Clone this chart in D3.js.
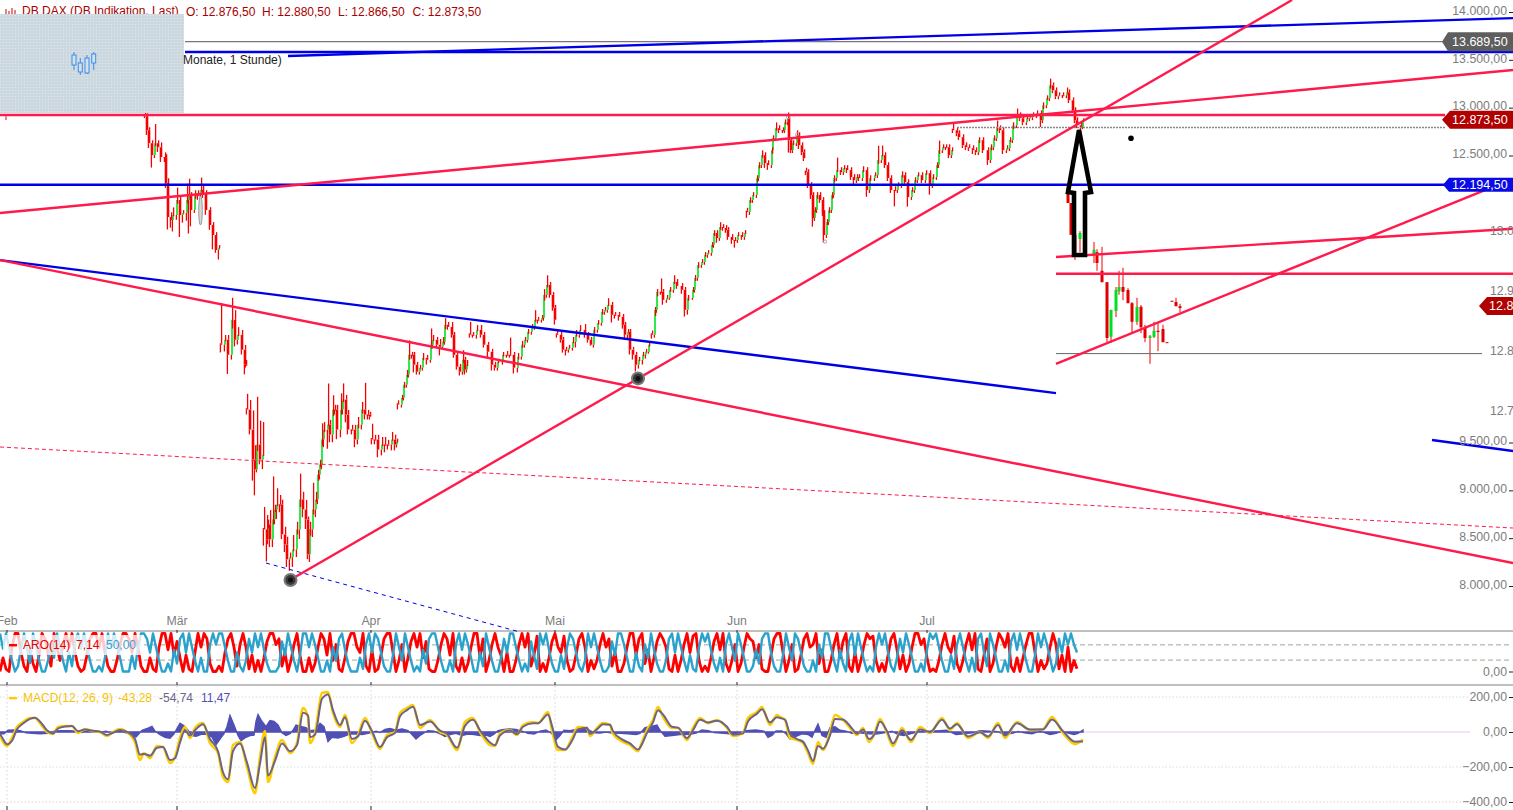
<!DOCTYPE html>
<html><head><meta charset="utf-8">
<style>html,body{margin:0;padding:0;background:#fff;overflow:hidden}svg{display:block;font-family:"Liberation Sans",Arial,sans-serif}</style>
<script src="https://cdn.jsdelivr.net/npm/d3@7/dist/d3.min.js"></script>
</head><body><svg id="c" width="1513" height="810"></svg>
<script>
// ---- hourly main candles: position, close, wick above body, wick below body
const mainBar=[145,147,149,152,155,158,161,165,166,168,171,173,177,180,183,187,189,191,195,198,201,203,206,210,213,216,219,
221,225,228,232,235,238,242,245,246,
247,250,253,255,257,260,263,
264,267,268,270,273,275,277,280,282,285,287,290,293,297,300,303,306,308,310,313,316,318,320,322,324,328,330,333,335,337,341,343,346,348,352,355,358,362,365,368,370,
372,375,378,382,385,388,392,395,397,
398,402,404,407,409,412,414,417,420,423,427,431,433,437,440,443,445,448,452,454,457,460,463,465,467,
470,473,477,481,484,488,492,495,498,503,507,510,514,518,522,525,528,532,535,538,542,544,547,550,553,555,
557,561,563,566,569,573,576,580,585,588,591,594,598,602,605,608,612,615,619,623,625,628,630,633,636,639,643,646,649,
652,655,657,661,663,667,670,674,677,682,685,688,693,695,698,702,705,708,712,714,717,720,723,726,728,732,735,738,742,745,
747,750,753,757,759,762,765,768,772,773,776,779,783,785,788,789,791,793,797,799,802,804,
806,808,811,813,815,817,820,823,824,827,829,832,834,
837,841,844,847,851,854,857,859,863,867,870,875,878,882,885,888,891,895,898,902,905,908,912,915,918,922,926,930,933,937,939,943,946,949,952,
953,957,959,963,966,969,973,976,979,983,988,991,994,997,1000,1003,1007,1010,1013,1017,1020,1023,1027,1030,1033,1037,1041,1043,1047,1050,1053,1056,1059,1063,1067,1069,1073,1075,1077,1081,1083];
const mainClose=[12894,12748,12612,12487,12612,12570,12466,12466,12195,11840,11809,11861,12018,11861,11882,12018,12070,11913,12070,12070,12122,12091,11913,11757,11652,11496,11517,
10505,10557,10400,10766,10557,10609,10453,10296,10296,
9827,9618,9305,9201,9461,9305,9357,
8575,8470,8627,8470,8679,8783,8835,8835,8523,8418,8262,8283,8366,8575,8888,8783,8679,8314,8575,8783,8888,9148,9253,9514,9618,9670,9566,9827,9827,9618,9827,9931,9774,9618,9618,9514,9670,9827,9774,9774,9753,
9514,9514,9409,9461,9461,9461,9514,9461,9493,
9879,9952,10087,10192,10400,10400,10296,10223,10265,10369,10348,10505,10557,10505,10484,10536,10713,10692,10609,10400,10275,10223,10348,10244,10296,
10609,10609,10661,10609,10505,10432,10296,10265,10327,10400,10400,10400,10265,10380,10505,10557,10640,10692,10766,10766,10786,11026,11131,11026,10891,10766,
10609,10557,10453,10453,10474,10536,10609,10661,10609,10557,10505,10661,10734,10849,10870,10922,10818,10818,10797,10713,10609,10640,10453,10400,10296,10348,10400,10432,10505,
10609,10870,11058,11058,10974,10995,11079,11162,11120,11079,10870,10995,11079,11204,11339,11371,11444,11465,11548,11673,11621,11736,11726,11705,11632,11600,11600,11652,11632,11673,
11892,12018,12070,12247,12383,12487,12404,12383,12539,12664,12769,12748,12748,12831,12873,12644,12539,12612,12696,12591,12518,12456,
12310,12174,12070,11830,11913,12070,12018,11882,11652,11788,11913,12070,12247,
12331,12310,12352,12331,12258,12226,12258,12247,12331,12122,12247,12278,12435,12487,12383,12247,12122,12122,12174,12278,12205,12049,12122,12226,12278,12226,12299,12174,12258,12383,12539,12570,12570,12487,12539,
12748,12716,12675,12591,12570,12560,12539,12518,12644,12539,12435,12570,12664,12769,12748,12539,12560,12644,12800,12904,12873,12831,12873,12883,12904,12925,12852,13009,13082,13217,13165,13102,13113,13113,13144,13061,12957,12852,12800,12779,12852];
const mainWickUp=[20,30,30,30,200,30,50,50,30,50,50,80,130,50,30,170,170,30,50,50,130,50,30,30,30,30,30,
420,50,50,230,100,80,50,50,50,
150,100,200,150,500,250,340,
220,150,50,150,450,50,170,100,50,80,80,50,150,80,270,80,100,30,80,280,80,50,50,170,80,430,50,150,50,50,170,170,50,50,50,50,80,80,280,50,30,
150,50,50,80,80,50,80,50,30,
30,30,30,50,150,30,30,30,30,50,30,170,50,30,60,50,70,30,50,30,30,30,100,30,50,
120,30,50,50,30,30,30,30,30,30,40,180,30,40,40,30,30,30,100,30,30,60,100,30,30,30,
30,30,30,30,30,50,50,50,60,30,30,30,30,30,30,70,30,30,30,30,30,30,30,30,30,30,30,30,30,
30,30,30,140,30,30,30,70,30,30,30,30,30,30,30,30,30,30,30,30,30,50,30,30,30,30,30,30,30,30,
30,30,30,30,30,50,30,30,30,30,60,30,30,30,60,30,30,30,50,30,30,30,
30,30,30,30,30,30,30,30,30,30,30,30,30,
130,30,30,30,30,30,30,30,40,30,30,30,150,100,30,30,30,40,30,40,30,30,30,30,30,30,30,30,30,30,100,30,30,30,30,
70,30,30,30,30,30,30,30,30,30,30,30,30,80,30,30,30,30,30,70,30,30,30,30,30,30,30,30,30,70,30,30,30,30,50,30,30,30,30,30,20];
const mainWickDown=[20,50,50,130,30,50,50,50,50,130,80,120,50,230,80,80,350,170,30,50,50,50,50,50,150,30,100,
80,70,200,50,70,50,50,100,30,
50,50,220,270,30,50,100,
170,230,50,80,80,50,100,80,50,80,80,120,100,80,100,80,100,50,80,80,80,50,50,50,80,200,80,80,50,100,80,50,80,50,50,80,50,50,50,50,30,
50,50,80,60,80,50,60,60,30,
50,30,30,30,30,40,80,30,30,30,50,30,40,30,90,30,30,30,30,30,30,40,30,50,30,
30,30,40,30,30,60,60,30,30,30,30,30,60,50,30,30,30,30,30,40,30,30,30,30,30,50,
30,30,30,60,30,30,60,30,30,30,10,30,30,30,30,30,80,40,40,40,50,40,50,50,70,40,50,40,20,
40,30,30,30,50,30,20,30,30,40,70,50,20,30,30,30,30,30,30,30,50,30,30,30,30,40,80,30,30,30,
60,30,30,30,30,30,50,50,30,30,30,30,30,30,30,130,30,30,30,40,30,30,
30,30,40,90,30,30,30,30,80,30,30,30,30,
30,30,30,30,30,40,30,30,30,70,30,30,30,30,30,30,30,170,30,30,30,100,30,30,30,30,30,100,30,30,30,30,30,30,30,
30,30,30,30,30,30,40,30,30,30,50,30,30,30,30,40,30,30,30,30,30,30,30,30,30,30,70,30,30,30,30,30,30,30,30,30,30,30,30,30,20];
const sessionStarts=[145,221,247,264,372,398,470,557,652,747,806,953];

// ---- inset candles (intraday chart pasted on the right)
const insetBar=[1068,1071,1075,1080,1089,1094,1097,1102,1107,1111,1116,1119,1123,1128,1132,1137,1141,1145,1150,1154,1158,1163,1167,1172,1176,1180];
const insetOpen=[13067,13045,12992,12985,12960,12960,12963,12932,12913,12822,12865,12898,12905,12900,12878,12847,12872,12837,12820,12822,12832,12835,12813,12882,12880,12873];
const insetClose=[13045,12992,12963,12995,12958,12967,12945,12913,12820,12867,12900,12905,12897,12878,12847,12872,12838,12820,12823,12832,12830,12813,12812,12881,12873,12870];
const insetHigh=[13067,13045,12992,12998,12960,12980,12968,12972,12913,12867,12905,12932,12937,12903,12880,12887,12875,12842,12825,12847,12845,12842,12813,12882,12887,12877];
const insetLow=[13045,12992,12950,12963,12958,12945,12932,12913,12812,12812,12855,12892,12883,12878,12830,12842,12828,12813,12777,12820,12798,12813,12812,12881,12873,12863];

// ---- drawn trend lines [bar, price, bar, price]
const redLines=[[0,11899,1513,13393],[290,8062,1292,14125],[0,11407,1513,8240],[0,12923,1445,12923]];
const blueLines=[[288,13540,1513,13937],[185,13582,1513,13582],[0,12194.5,1445,12194.5],[0,11407,1056,10017],[1432,9526,1513,9411]];
const redDash=[[0,9453,1513,8606]];
const blueDash=[[266,8240,520,7519]];
const grayLines=[[185,13689.5,1443,13689.5]];
const grayDotted=[[957,12792,1445,12792]];
const insetRedLines=[[1056,12955,1513,13002],[1056,12927,1513,12927],[1056,12777,1493,13072]];
const insetGrayLines=[[1056,12794,1482,12794]];
const arrowBar=[1079,1091,1085,1085,1074,1074,1068];
const arrowPrice=[12766,12118,12108,11460,11460,12108,12118];
const priceLevels=["13.689,50","12.873,50","12.194,50"];

// ---- axes
const monthBars=[7,177,371,555,737,927];
const monthNames=["Feb","Mär","Apr","Mai","Jun","Jul"];
const priceTicks=[14000,13500,13000,12500,9500,9000,8500,8000];
const insetTicks=[13000,12900,12800,12700];
const macdTicks=[200,0,-200,-400];

// ---- Aroon(14), one sample every 3 bars
const aroUp=[100,60,100,65,28,0,14,60,100,60,22,100,70,30,0,0,28,72,36,100,
64,28,0,50,14,79,100,60,100,64,28,0,0,14,0,36,100,64,100,72,
36,0,0,0,43,7,64,100,100,86,50,100,64,29,0,0,21,0,57,21,
86,100,50,100,64,28,0,36,0,0,71,100,71,100,100,64,28,0,0,50,
14,0,29,86,50,100,64,100,57,21,0,0,0,14,79,43,100,64,29,0,
43,100,100,64,100,71,36,0,0,29,0,64,28,86,100,57,21,0,0,0,
36,7,71,100,50,100,86,50,14,0,0,43,100,64,29,100,64,28,0,14,
0,57,21,86,100,100,64,28,0,0,29,0,71,100,57,100,71,36,0,0,
50,14,100,64,28,0,0,36,86,50,100,100,64,29,0,21,0,79,43,7,
100,71,100,57,21,0,0,43,7,64,100,86,50,14,0,29,100,64,100,64,
28,0,0,14,79,43,100,100,71,36,0,0,50,14,0,71,36,100,57,21,
0,0,29,86,100,50,100,64,29,0,43,7,0,64,100,79,100,57,21,0,
36,0,71,100,64,28,100,71,36,0,0,14,57,21,86,100,100,50,14,0,
0,43,100,64,29,100,86,50,14,0,0,29,0,71,36,100,100,64,28,0,
57,21,0,79,100,43,100,64,29,0,14,0,64,100,71,100,50,14,0,36,
86,50,100,71,36,0,0,21,0,57,100,86,100,64,29,0,0,43,7,71,
100,64,28,0,36,0,86,100,50,14,100,71,36,0,0,29,0,79,100,57,
100,64,29,0,0,43,100,64,100,71,36,0,21,86,50,100,71,100,71,50];
const aroDown=[0,36,7,0,64,100,100,50,14,0,57,21,0,43,100,86,50,14,100,64,
29,71,100,64,100,50,14,0,7,43,86,100,100,64,100,50,14,0,0,29,
71,100,100,86,50,100,64,14,0,0,36,7,0,64,100,100,57,100,43,79,
36,0,43,7,0,50,100,64,100,86,21,0,0,14,0,50,86,100,64,14,
71,100,64,7,43,0,29,0,36,79,100,100,71,86,14,50,0,29,71,100,
43,0,0,36,0,21,64,100,86,43,100,29,71,7,0,36,79,100,100,64,
50,100,14,0,57,0,7,43,86,100,100,50,0,29,71,0,36,79,100,64,
100,36,79,7,0,0,29,71,100,86,43,100,14,0,36,0,21,64,100,100,
36,86,0,29,71,100,64,43,0,50,0,0,29,71,100,64,100,14,43,93,
0,21,0,36,79,100,64,50,93,29,0,7,43,86,100,64,0,29,7,29,
71,100,64,86,14,50,0,0,21,64,100,100,43,86,100,21,57,0,36,79,
100,86,64,7,0,43,0,29,71,100,50,93,100,29,0,14,0,36,79,100,
57,100,21,0,29,71,0,21,64,100,86,79,36,71,7,0,0,43,86,100,
100,50,0,29,71,0,7,43,86,100,64,71,100,21,57,0,0,29,71,100,
36,79,100,14,0,50,0,29,71,100,86,93,29,0,21,0,43,86,100,57,
7,43,0,21,64,100,100,71,86,36,0,7,0,29,71,100,64,50,93,21,
0,29,71,100,57,100,7,0,43,86,0,21,64,100,86,64,100,14,0,36,
0,36,71,100,100,50,0,29,7,21,64,100,71,7,43,0,64,0,29,7];

// ---- MACD(12,26,9)
const macdBars=[0,3,7,12,17,23,30,35,40,47,53,58,65,72,78,85,92,100,107,113,120,128,135,140,144,150,157,163,170,175,180,185,190,195,203,210,218,223,228,233,240,247,255,260,265,268,275,282,290,297,303,308,310,315,322,328,333,340,345,352,358,365,372,380,387,395,400,407,413,420,430,440,447,457,465,473,480,490,495,500,510,517,523,533,538,548,552,558,565,572,578,587,590,597,603,610,613,623,630,638,642,647,653,658,663,672,678,687,693,700,708,717,727,733,743,748,757,762,770,777,780,785,790,797,803,808,813,818,823,830,835,843,852,857,863,869,875,880,887,893,902,911,920,930,942,950,957,968,980,988,998,1005,1017,1030,1043,1052,1063,1075,1083];
const macdLine=[-17,-57,-80,-34,29,57,80,80,51,0,-11,29,34,34,-6,17,6,0,-23,0,17,-6,-57,-160,-120,-149,-80,-86,-177,-143,-34,29,-34,23,51,-63,-120,-257,-286,-74,-57,-200,-349,-143,6,-286,-143,-46,-120,-63,137,86,-63,-6,223,229,109,29,97,-63,-17,80,-6,-97,-17,0,109,137,154,23,69,0,-17,-103,57,80,0,-74,-80,-6,11,-17,40,57,51,114,11,-103,-103,-34,29,23,-23,23,51,40,-11,-57,-74,-109,-57,11,69,143,86,23,23,-46,23,80,51,69,23,-23,-6,80,114,143,40,97,86,69,-34,-46,-63,-120,-183,-57,-103,0,97,69,11,-17,23,-57,0,74,-6,-80,23,-57,29,-6,80,11,51,-34,0,-34,51,-34,57,11,17,86,-6,-69,-43.28];
const macdSignal=[-10,-40,-70,-50,15,48,75,82,60,10,-8,20,32,35,5,14,8,2,-17,-4,12,-2,-40,-130,-125,-135,-90,-85,-160,-150,-60,10,-20,10,45,-40,-110,-230,-270,-110,-65,-175,-320,-180,-30,-250,-165,-65,-110,-75,110,95,-30,-15,190,215,125,40,85,-40,-25,65,5,-85,-30,-5,90,125,145,40,60,8,-10,-90,35,70,10,-60,-75,-20,8,-12,30,50,50,100,35,-85,-100,-50,15,25,-10,15,45,42,5,-45,-65,-100,-70,-5,55,125,100,30,25,-35,10,70,55,65,30,-15,-8,60,105,130,55,85,80,70,-10,-40,-55,-105,-165,-80,-95,-20,75,72,20,-10,15,-40,-8,60,5,-65,10,-45,15,0,70,20,45,-25,-2,-25,40,-20,50,15,15,72,5,-55,-54.74];
const histBars=[0,4,8,14,20,26,32,40,48,54,60,70,76,82,88,94,100,106,112,120,128,132,136,142,148,152,155,160,165,170,174,178,180,184,188,192,196,202,208,212,216,220,224,227,230,234,238,241,246,250,254,256,258,262,266,270,274,278,282,286,290,293,296,302,306,310,316,320,324,328,332,338,344,350,356,362,368,376,380,385,390,396,402,408,412,416,420,424,428,434,440,445,450,456,462,468,474,480,486,490,494,498,504,510,516,522,528,534,540,546,552,556,560,564,570,576,582,588,594,600,606,612,620,628,636,640,645,650,657,660,665,672,680,690,696,702,708,714,724,734,740,746,756,764,768,772,776,782,786,790,796,802,808,812,815,818,822,826,830,835,840,846,852,860,868,876,884,892,898,904,912,920,930,940,946,950,956,964,972,980,990,998,1004,1012,1018,1026,1032,1040,1046,1050,1056,1062,1068,1074,1078,1083];
const macdHist=[-10,-10,10,12,8,-4,-8,-10,-8,5,8,7,5,-3,8,8,-3,4,-5,5,-8,-25,-28,10,22,32,5,-15,-30,-36,-10,30,50,35,10,-20,-25,-12,-15,-30,-72,-40,-10,30,95,40,-20,-50,-30,-20,-18,60,100,60,30,65,60,40,-5,-20,-10,10,40,30,25,8,12,50,30,-55,-30,-35,-25,-10,-12,-15,-8,5,-3,15,20,10,18,8,-15,-40,-20,-5,8,5,-10,-25,-15,-8,-20,-12,-15,-20,-18,-25,-12,8,15,18,14,5,-8,-12,5,12,-10,-45,-20,10,8,15,18,15,-5,-6,0,-6,-8,-10,-15,-8,25,30,40,10,-25,-20,-15,-13,-6,12,8,-3,-8,-13,-8,8,11,5,-30,-20,6,6,-10,-40,-25,-10,-14,-30,10,45,-20,-30,25,30,10,5,-8,-5,-10,-12,-5,5,-15,-20,-8,3,5,8,10,2,-15,-10,-5,8,4,2,-15,-8,3,-6,-10,5,-6,-15,-8,5,-6,-15,-8,11.47];

// ---- scales
const W=1513,H=810;
const svg=d3.select("#c");
const x=d3.scaleLinear().domain([0,W]).range([0,W]);
const priceY=d3.scaleLinear().domain([14000,8000]).range([12,586]);
const insetY=d3.scaleLinear().domain([13000,12700]).range([230,410]);
const aroY=d3.scaleLinear().domain([0,100]).range([671.5,633.5]);
const macdY=d3.scaleLinear().domain([200,-400]).range([697,802]);
const de=d3.formatLocale({decimal:",",thousands:".",grouping:[3],currency:["","€"]}).format(",.2f");

const defs=svg.append("defs");
const pat=defs.append("pattern").attr("id","stipple").attr("width",3).attr("height",3).attr("patternUnits","userSpaceOnUse");
pat.append("rect").attr("width",3).attr("height",3).attr("fill","#cdd9e2");
pat.append("rect").attr("width",1).attr("height",1).attr("fill","#dfe7ea");
pat.append("rect").attr("x",1.5).attr("y",1.5).attr("width",1).attr("height",1).attr("fill","#c8d8d2");

function segs(g,data,yS,attrs){
  const s=g.selectAll(null).data(data).join("line")
    .attr("x1",d=>x(d[0])).attr("y1",d=>yS(d[1])).attr("x2",d=>x(d[2])).attr("y2",d=>yS(d[3]));
  Object.entries(attrs).forEach(([k,v])=>s.attr(k,v));
  return s;
}

// ---- header text (behind the pasted box)
const hdr=svg.append("g").attr("font-size",12).attr("fill","#a80000");
hdr.append("text").attr("x",22).attr("y",15).text("DB DAX (DB Indikation, Last)");
hdr.append("text").attr("x",186).attr("y",16).text("O: 12.876,50");
hdr.append("text").attr("x",262).attr("y",16).text("H: 12.880,50");
hdr.append("text").attr("x",338).attr("y",16).text("L: 12.866,50");
hdr.append("text").attr("x",412.5).attr("y",16).text("C: 12.873,50");
[[6,9,14],[9,11,14],[12,8,14],[15,10,14]].forEach(d=>hdr.append("line").attr("x1",d[0]).attr("x2",d[0]).attr("y1",d[1]).attr("y2",d[2]).attr("stroke","#c00"));

// ---- separators and grid
const grid=svg.append("g");
grid.append("line").attr("x1",0).attr("x2",W).attr("y1",631).attr("y2",631).attr("stroke","#808080");
grid.append("line").attr("x1",0).attr("x2",W).attr("y1",685).attr("y2",685).attr("stroke","#808080");
[70,30].forEach(v=>grid.append("line").attr("x1",0).attr("x2",1511).attr("y1",aroY(v)).attr("y2",aroY(v)).attr("stroke","#9aa89a").attr("stroke-dasharray","5 3"));
const macdGridColor={200:"#dcd8dc",0:"#f0dcf0","-200":"#cfe3dc","-400":"#cfd8cf"};
macdTicks.forEach(v=>grid.append("line").attr("x1",0).attr("x2",1470).attr("y1",macdY(v)).attr("y2",macdY(v))
  .attr("stroke",macdGridColor[v]).attr("stroke-dasharray",v===0?null:"1.5 2").attr("stroke-width",v===0?1.4:1));
grid.selectAll(".vg").data(monthBars).join("line").attr("x1",d=>x(d)).attr("x2",d=>x(d)).attr("y1",686).attr("y2",806)
  .attr("stroke","#d4d4d4").attr("stroke-dasharray","1.5 2.5");
grid.selectAll(".t1").data(monthBars).join("line").attr("x1",d=>x(d)).attr("x2",d=>x(d)).attr("y1",630).attr("y2",633).attr("stroke","#222");
grid.selectAll(".t2").data(monthBars).join("line").attr("x1",d=>x(d)).attr("x2",d=>x(d)).attr("y1",682).attr("y2",685).attr("stroke","#222");
grid.selectAll(".t3").data(monthBars).join("line").attr("x1",d=>x(d)).attr("x2",d=>x(d)).attr("y1",806).attr("y2",810).attr("stroke","#222");

// ---- month labels
svg.append("g").selectAll("text").data(monthBars).join("text")
  .attr("x",d=>x(d)).attr("y",625).attr("text-anchor","middle").attr("font-size",12.3).attr("fill","#7d7d7d")
  .text((d,i)=>monthNames[i]);

// ---- candles
const candles=mainBar.map((b,i)=>{
  const c=mainClose[i];
  const o=(i===0||sessionStarts.includes(b))?c+15:mainClose[i-1];
  return {b,o,c,h:Math.max(o,c)+mainWickUp[i],l:Math.min(o,c)-mainWickDown[i]};
});
const GREEN="#00e020",RED="#f60000";
const mg=svg.append("g").attr("transform","translate(0,-1.6)");
function drawBodies(list,col,w){
  mg.selectAll(null).data(list).join("rect").attr("x",d=>x(d.b)-w/2).attr("width",w)
    .attr("y",d=>Math.min(priceY(d.o),priceY(d.c))).attr("height",d=>Math.max(1,Math.abs(priceY(d.o)-priceY(d.c)))).attr("fill",col);
}
drawBodies(candles.filter(d=>d.c>d.o),GREEN,1.6);
mg.selectAll(null).data(candles).join("line").attr("x1",d=>x(d.b)+0.6).attr("x2",d=>x(d.b)+0.6)
  .attr("y1",d=>priceY(d.h)).attr("y2",d=>priceY(Math.max(d.o,d.c)-(d.c>d.o?(d.c-d.o)*0.25:0))).attr("stroke",RED).attr("stroke-width",1.3);
mg.selectAll(null).data(candles).join("line").attr("x1",d=>x(d.b)-0.6).attr("x2",d=>x(d.b)-0.6)
  .attr("y1",d=>priceY(d.l)).attr("y2",d=>priceY(Math.min(d.o,d.c))).attr("stroke",RED).attr("stroke-width",1.3);
drawBodies(candles.filter(d=>d.c<=d.o),RED,2.6);

const inset=insetBar.map((b,i)=>({b,o:insetOpen[i],c:insetClose[i],h:insetHigh[i],l:insetLow[i]}));
const ig=svg.append("g");
ig.selectAll("line").data(inset).join("line").attr("x1",d=>x(d.b)).attr("x2",d=>x(d.b)).attr("y1",d=>insetY(d.h)).attr("y2",d=>insetY(d.l))
  .attr("stroke","#f00000").attr("stroke-width",1);
ig.selectAll("rect").data(inset).join("rect").attr("x",d=>x(d.b)-1.5).attr("width",3)
  .attr("y",d=>Math.min(insetY(d.o),insetY(d.c))).attr("height",d=>Math.max(1,Math.abs(insetY(d.o)-insetY(d.c))))
  .attr("fill",d=>d.c>d.o?GREEN:"#e00000");

// small session marks
const markG=svg.append("g");
markG.append("line").attr("x1",x(6)).attr("x2",x(6)).attr("y1",priceY(12910)).attr("y2",priceY(12870)).attr("stroke",RED);
markG.selectAll("circle").data([[788,12900],[797,12720],[825,11600]]).join("circle")
  .attr("cx",d=>x(d[0])).attr("cy",d=>priceY(d[1])).attr("r",1.6).attr("fill","none").attr("stroke","#aaa");
markG.append("ellipse").attr("cx",x(200.5)).attr("cy",priceY(11925)).attr("rx",1.8).attr("ry",14.5).attr("fill","#d8d8d8").attr("stroke","#999");

// ---- trend lines
const RL="#ff1a4b",BL="#0000e6";
const tl=svg.append("g").attr("stroke-linecap","butt");
segs(tl,redDash,priceY,{stroke:RL,"stroke-width":1,"stroke-dasharray":"4 3"});
segs(tl,blueDash,priceY,{stroke:BL,"stroke-width":1,"stroke-dasharray":"4 4"});
segs(tl,grayLines,priceY,{stroke:"#5c5060","stroke-width":1});
segs(tl,grayDotted,priceY,{stroke:"#888","stroke-width":1.4,"stroke-dasharray":"2 1"});
segs(tl,insetGrayLines,insetY,{stroke:"#666","stroke-width":1});
segs(tl,blueLines,priceY,{stroke:BL,"stroke-width":2.3});
segs(tl,redLines,priceY,{stroke:RL,"stroke-width":2.4});
segs(tl,insetRedLines,insetY,{stroke:RL,"stroke-width":2.4});

// ---- annotations
svg.append("path").attr("fill","none").attr("stroke","#000").attr("stroke-width",4.6).attr("stroke-linejoin","miter")
  .attr("d",d3.line().x(d=>x(d[0])).y(d=>priceY(d[1])).curve(d3.curveLinearClosed)(arrowBar.map((b,i)=>[b,arrowPrice[i]])));
svg.append("circle").attr("cx",x(1131)).attr("cy",priceY(12680)).attr("r",2.8).attr("fill","#000");
[[290.5,8062],[638,10170]].forEach(d=>{
  const g=svg.append("g").attr("transform",`translate(${x(d[0])},${priceY(d[1])})`);
  g.append("circle").attr("r",7).attr("fill","#7a7a7a");
  g.append("circle").attr("r",5).attr("fill","#3a3a3a");
  g.append("circle").attr("r",2.5).attr("fill","#111");
});

// ---- price axes
const axG=svg.append("g").attr("transform","translate(1509,0)")
  .call(d3.axisRight(priceY).tickValues(priceTicks).tickSize(4).tickFormat(de));
axG.select(".domain").remove();
axG.selectAll("text").attr("x",-2).attr("dy","0.18em").attr("text-anchor","end").attr("font-size",12.3).attr("fill","#7d7d7d");
axG.selectAll("line").attr("stroke","#222");

const ax2=svg.append("g").attr("transform","translate(1490,0)")
  .call(d3.axisRight(insetY).tickValues(insetTicks).tickSize(0).tickFormat(de));
ax2.select(".domain").remove();
ax2.selectAll("text").attr("x",0).attr("dy","0.33em").attr("text-anchor","start").attr("font-size",12.3).attr("fill","#7d7d7d");

const ax3=svg.append("g").attr("transform","translate(1509,0)")
  .call(d3.axisRight(aroY).tickValues([0]).tickSize(4).tickFormat(de));
ax3.select(".domain").remove();
ax3.selectAll("text").attr("x",-2).attr("text-anchor","end").attr("font-size",12.3).attr("fill","#7d7d7d");
ax3.selectAll("line").attr("stroke","#222");

const ax4=svg.append("g").attr("transform","translate(1509,0)")
  .call(d3.axisRight(macdY).tickValues(macdTicks).tickSize(4).tickFormat(de));
ax4.select(".domain").remove();
ax4.selectAll("text").attr("x",-2).attr("text-anchor","end").attr("font-size",12.3).attr("fill","#7d7d7d");
ax4.selectAll("line").attr("stroke","#222");

// ---- price tags
const tags=[
 {y:priceY(13689.5),t:priceLevels[0],c:"#5e5e5e",h:9.5,tip:1442,body:1448,tx:1452},
 {y:priceY(12873.5),t:priceLevels[1],c:"#b00000",h:9,tip:1442,body:1450,tx:1452},
 {y:priceY(12194.5),t:priceLevels[2],c:"#0a0ae6",h:7,tip:1443,body:1449,tx:1452},
 {y:insetY(12873.5),t:priceLevels[1],c:"#b00000",h:9,tip:1479,body:1487,tx:1489}];
const tg=svg.append("g");
tags.forEach(d=>{
  tg.append("path").attr("d",`M${d.tip},${d.y}L${d.body},${d.y-d.h}L${W},${d.y-d.h}L${W},${d.y+d.h}L${d.body},${d.y+d.h}Z`).attr("fill",d.c);
  tg.append("text").attr("x",d.tx).attr("y",d.y+4.5).attr("fill","#fff").attr("font-size",12.5).text(d.t);
});

// ---- Aroon
const aroX=i=>x(i*3);
const aroLine=d3.line().x((d,i)=>aroX(i)).y(d=>aroY(d));
const ap=svg.append("g").attr("fill","none").attr("stroke-linejoin","round");
ap.append("path").attr("d",aroLine(aroDown)).attr("stroke","#ff0000").attr("stroke-width",2.8);
ap.append("path").attr("d",aroLine(aroUp)).attr("stroke","#2aa2cc").attr("stroke-width",2.4);
const aLeg=svg.append("g").attr("font-size",12);
aLeg.append("rect").attr("x",3).attr("y",635).attr("width",141).attr("height",20).attr("fill","#fff").attr("fill-opacity",.78);
aLeg.append("rect").attr("x",9).attr("y",644).attr("width",8).attr("height",2.4).attr("fill","#f00");
aLeg.append("text").attr("x",23).attr("y",649).attr("fill","#e80000").text("ARO(14)");
aLeg.append("text").attr("x",76).attr("y",649).attr("fill","#e80000").text("7,14");
aLeg.append("text").attr("x",106).attr("y",649).attr("fill","#3a9fd0").text("50,00");

// ---- MACD
const mp=svg.append("g");
mp.append("path").attr("fill","#5050b4").attr("stroke","#5050b4").attr("stroke-width",1.4)
  .attr("d",d3.area().x((d,i)=>x(histBars[i])).y0(macdY(0)).y1(d=>macdY(d))(macdHist));
const mLine=d3.line().x((d,i)=>x(macdBars[i])).y(d=>macdY(d)).curve(d3.curveMonotoneX);
mp.append("path").attr("d",mLine(macdLine)).attr("fill","none").attr("stroke","#ffcc00").attr("stroke-width",2.6);
mp.append("path").attr("d",mLine(macdSignal)).attr("fill","none").attr("stroke","#6c6488").attr("stroke-width",2);
const mLeg=svg.append("g").attr("font-size",12);
mLeg.append("rect").attr("x",9).attr("y",697).attr("width",8).attr("height",2.4).attr("fill","#ffcc00");
mLeg.append("text").attr("x",23).attr("y",702).attr("fill","#f4c400").text("MACD(12, 26, 9)");
mLeg.append("text").attr("x",118).attr("y",702).attr("fill","#f4c400").text("-43,28");
mLeg.append("text").attr("x",159).attr("y",702).attr("fill","#6c6488").text("-54,74");
mLeg.append("text").attr("x",201).attr("y",702).attr("fill","#5050b4").text("11,47");

// ---- pasted box covering the top-left corner
const box=svg.append("g");
box.append("rect").attr("x",0).attr("y",14).attr("width",184).attr("height",99).attr("fill","url(#stipple)");
const iconBars=[74,80.3,87,93.7], iconTop=[55,63,58,54], iconBot=[65,72,73,63], iconHi=[52,58,55,52], iconLo=[70,75,74,70];
iconBars.forEach((b,i)=>{
  box.append("line").attr("x1",b).attr("x2",b).attr("y1",iconHi[i]).attr("y2",iconLo[i]).attr("stroke","#3b8fe8");
  box.append("rect").attr("x",b-2).attr("y",iconTop[i]).attr("width",4).attr("height",iconBot[i]-iconTop[i]).attr("fill","#d5e0ea").attr("stroke","#3b8fe8");
});
svg.append("text").attr("x",183).attr("y",64).attr("font-size",12).attr("fill","#222").text("Monate, 1 Stunde)");
</script></body></html>
